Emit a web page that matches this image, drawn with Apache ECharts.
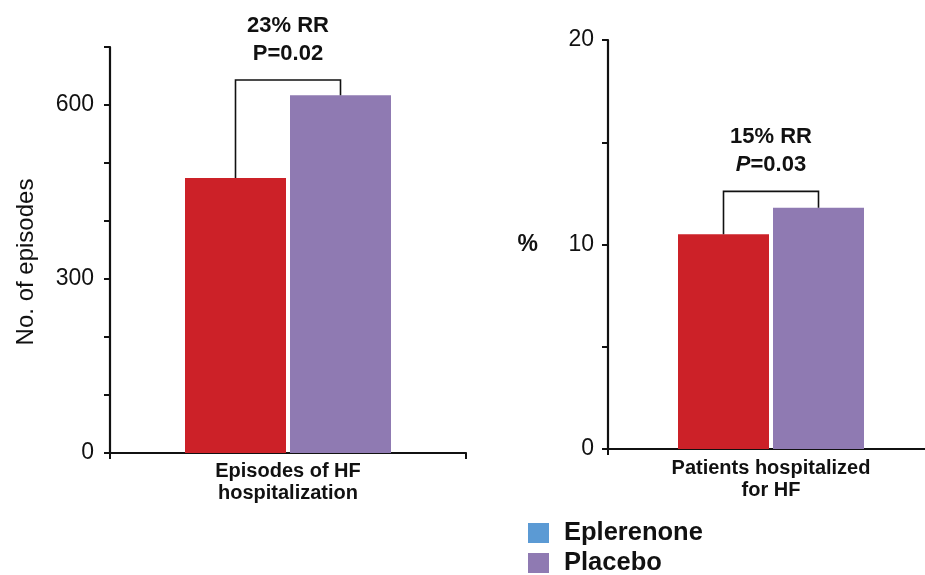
<!DOCTYPE html>
<html><head><meta charset="utf-8">
<script src="https://cdn.jsdelivr.net/npm/echarts@6/dist/echarts.min.js"></script>
<style>html,body{margin:0;padding:0;background:#fff}#c{width:925px;height:575px}</style>
</head><body><div id="c"></div>
<script>
// ---- data ----
const seriesNames = ['Eplerenone', 'Placebo'];
const categoriesLeft = ['Episodes of HF\nhospitalization'];
const categoriesRight = ['Patients hospitalized\nfor HF'];
const eplerenoneLeft = [474];
const placeboLeft = [617];
const eplerenoneRight = [10.5];
const placeboRight = [11.8];
const bracketTopLeft = [643];
const bracketTopRight = [12.6];
const annotationLeft = ['{b|23% RR}\n{b|P=0.02}'];
const annotationRight = ['{b|15% RR}\n{i|P}{b|=0.03}'];
const tickLabelsLeft = [0, 300, 600];
const tickLabelsRight = [0, 10, 20];
const yNameLeft = 'No. of episodes';
const yNameRight = '%';

// ---- styles ----
const FONT = "'Liberation Sans', Arial, Helvetica, sans-serif";
const RED = '#cc2128';
const PURPLE = '#8f7ab2';
const LEGEND_BLUE = '#5b9ad4';
const BW_L = 101, BW_R = 91, GAP = 4;

const chart = echarts.init(document.getElementById('c'), null, {renderer: 'canvas'});

function bracketSeries(xi, bw, tops, reds, purples, texts) {
  const data = tops.map((t, i) => [i, reds[i], purples[i], t]);
  return {
    type: 'custom', xAxisIndex: xi, yAxisIndex: xi, silent: true, z: 5,
    data: data,
    renderItem: function (params, api) {
      const i = params.dataIndex;
      const off = (bw + GAP) / 2;
      const top = api.coord([api.value(0), api.value(3)]);
      const r = api.coord([api.value(0), api.value(1)]);
      const p = api.coord([api.value(0), api.value(2)]);
      const xl = top[0] - off, xr = top[0] + off;
      return {
        type: 'group',
        children: [
          {type: 'polyline', shape: {points: [[xl, r[1]], [xl, top[1]], [xr, top[1]], [xr, p[1]]]},
           style: {stroke: '#111', lineWidth: 1.6, fill: null}},
          {type: 'text', x: top[0], y: top[1] - 12,
           style: {text: texts[i], align: 'center', verticalAlign: 'bottom',
             rich: {
               b: {font: 'bold 22px ' + FONT, fill: '#111', lineHeight: 28},
               i: {font: 'italic bold 22px ' + FONT, fill: '#111', lineHeight: 28}
             }}}
        ]
      };
    }
  };
}

const axisLine = {show: true, lineStyle: {color: '#111', width: 2.2}};
const legendBase = {
  orient: 'horizontal', left: 528, padding: 0,
  itemWidth: 21, itemHeight: 20,
  icon: 'rect',
  textStyle: {fontFamily: FONT, fontWeight: 'bold', fontSize: 25.5, color: '#111', padding: [0, 0, 0, 10]}
};

chart.setOption({
  animation: false,
  backgroundColor: '#fff',
  legend: [
    Object.assign({}, legendBase, {top: 520, data: [{name: seriesNames[0], itemStyle: {color: LEGEND_BLUE}}]}),
    Object.assign({}, legendBase, {top: 550, data: [{name: seriesNames[1], itemStyle: {color: PURPLE}}]})
  ],
  grid: [
    {left: 110, top: 47, width: 356, height: 406, outerBoundsMode: 'none'},
    {left: 608, top: 40, width: 326, height: 409, outerBoundsMode: 'none'}
  ],
  xAxis: [
    {type: 'category', gridIndex: 0, data: categoriesLeft, axisLine: axisLine,
     axisTick: {show: true, length: 6, lineStyle: {color: '#111', width: 2}},
     axisLabel: {fontFamily: FONT, fontWeight: 'bold', fontSize: 20, color: '#111', lineHeight: 22, margin: 7}},
    {type: 'category', gridIndex: 1, data: categoriesRight, axisLine: axisLine,
     axisTick: {show: true, length: 6, lineStyle: {color: '#111', width: 2}},
     axisLabel: {fontFamily: FONT, fontWeight: 'bold', fontSize: 20, color: '#111', lineHeight: 22, margin: 8}}
  ],
  yAxis: [
    {type: 'value', gridIndex: 0, min: 0, max: 700, interval: 100,
     name: yNameLeft, nameLocation: 'middle', nameRotate: 90, nameGap: 72,
     nameTextStyle: {fontFamily: FONT, fontSize: 24, color: '#111', padding: [0, 24, 0, 0]},
     axisLine: axisLine, splitLine: {show: false},
     axisTick: {show: true, length: 6, lineStyle: {color: '#111', width: 2}},
     axisLabel: {fontFamily: FONT, fontSize: 23, color: '#111', margin: 16,
       formatter: v => tickLabelsLeft.includes(v) ? String(v) : ''}},
    {type: 'value', gridIndex: 1, min: 0, max: 20, interval: 5,
     name: yNameRight, nameLocation: 'middle', nameRotate: 0, nameGap: 70,
     nameTextStyle: {fontFamily: FONT, fontSize: 23, fontWeight: 'bold', color: '#111'},
     axisLine: axisLine, splitLine: {show: false},
     axisTick: {show: true, length: 6, lineStyle: {color: '#111', width: 2}},
     axisLabel: {fontFamily: FONT, fontSize: 23, color: '#111', margin: 14,
       formatter: v => tickLabelsRight.includes(v) ? String(v) : ''}}
  ],
  series: [
    {name: seriesNames[0], type: 'bar', xAxisIndex: 0, yAxisIndex: 0, data: eplerenoneLeft,
     barWidth: BW_L, barGap: (GAP / BW_L * 100) + '%', itemStyle: {color: RED}},
    {name: seriesNames[1], type: 'bar', xAxisIndex: 0, yAxisIndex: 0, data: placeboLeft,
     barWidth: BW_L, barGap: (GAP / BW_L * 100) + '%', itemStyle: {color: PURPLE}},
    {name: seriesNames[0], type: 'bar', xAxisIndex: 1, yAxisIndex: 1, data: eplerenoneRight,
     barWidth: BW_R, barGap: (GAP / BW_R * 100) + '%', itemStyle: {color: RED}},
    {name: seriesNames[1], type: 'bar', xAxisIndex: 1, yAxisIndex: 1, data: placeboRight,
     barWidth: BW_R, barGap: (GAP / BW_R * 100) + '%', itemStyle: {color: PURPLE}},
    bracketSeries(0, BW_L, bracketTopLeft, eplerenoneLeft, placeboLeft, annotationLeft),
    bracketSeries(1, BW_R, bracketTopRight, eplerenoneRight, placeboRight, annotationRight)
  ]
});
</script>
</body></html>
